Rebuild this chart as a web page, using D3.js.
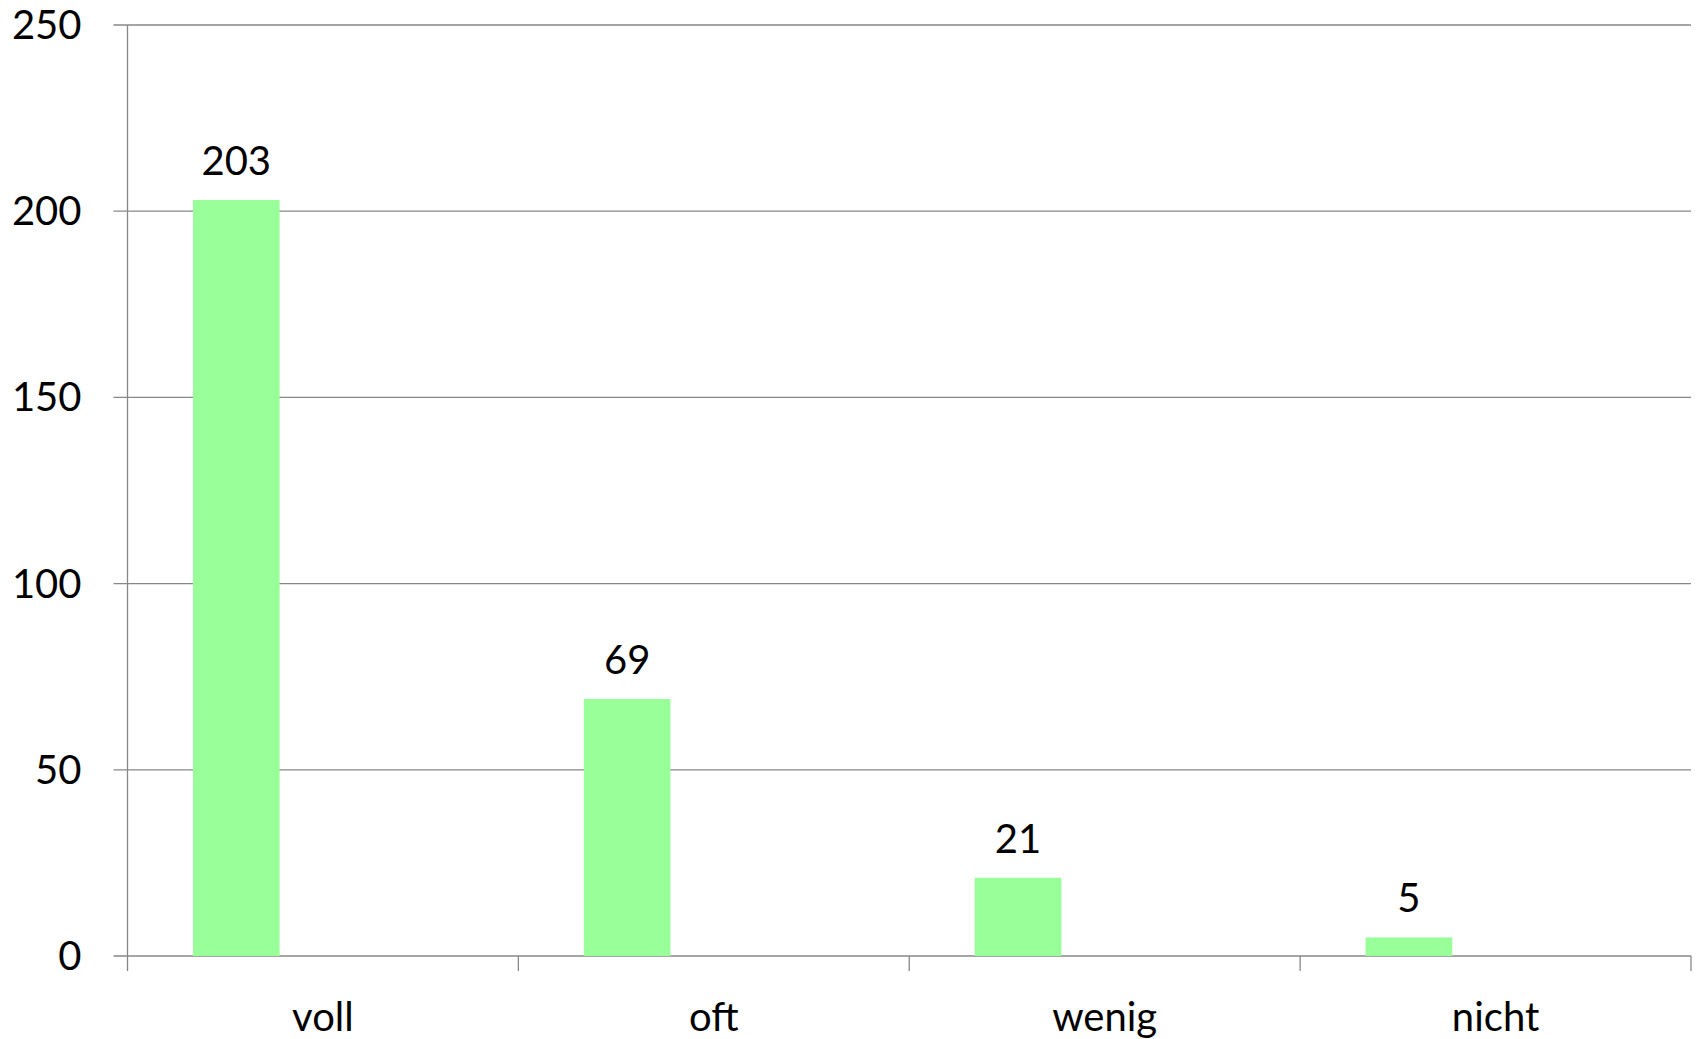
<!DOCTYPE html>
<html lang="de">
<head>
    <meta charset="UTF-8">
    <title>Balkendiagramm</title>
    <style>
        body { margin: 0; background: #fff; }
        svg { display: block; }
        text { font-family: Lato, "Open Sans", sans-serif; fill: #000; }
    </style>
</head>
<body>
    <svg id="chart" width="1696" height="1039"></svg>

    <script src="https://d3js.org/d3.v7.min.js"></script>
    <script>
        // data
        const categories = ['voll', 'oft', 'wenig', 'nicht'];
        const values = [203, 69, 21, 5];
        const yTicks = [0, 50, 100, 150, 200, 250];

        const width = 1696, height = 1039;
        const margin = { top: 25, right: 5, bottom: 83, left: 127.5 };
        const innerW = width - margin.left - margin.right;
        const innerH = height - margin.top - margin.bottom;

        const svg = d3.select('#chart');
        const g = svg.append('g')
            .attr('transform', `translate(${margin.left},${margin.top})`);

        const x = d3.scaleBand()
            .domain(categories)
            .range([0, innerW])
            .padding(0);

        // bar sits in the first of three slots inside each category (Excel-style cluster)
        const slot = d3.scaleBand()
            .domain([0, 1, 2])
            .range([0, x.bandwidth()])
            .paddingInner(0)
            .paddingOuter(0.755);

        const y = d3.scaleLinear()
            .domain([0, 250])
            .range([innerH, 0]);

        const gridColor = '#878787';

        // horizontal gridlines (with tick stub to the left of the axis)
        g.append('g')
            .selectAll('line')
            .data(yTicks)
            .join('line')
            .attr('x1', -14)
            .attr('x2', innerW)
            .attr('y1', d => y(d))
            .attr('y2', d => y(d))
            .attr('stroke', gridColor)
            .attr('stroke-width', 1.3);

        // y axis line
        g.append('line')
            .attr('x1', 0).attr('x2', 0)
            .attr('y1', 0).attr('y2', innerH)
            .attr('stroke', gridColor)
            .attr('stroke-width', 1.3);

        // x category ticks at band boundaries
        const bounds = categories.map(c => x(c)).concat([innerW]);
        g.append('g')
            .selectAll('line')
            .data(bounds)
            .join('line')
            .attr('x1', d => d).attr('x2', d => d)
            .attr('y1', innerH).attr('y2', innerH + 15)
            .attr('stroke', gridColor)
            .attr('stroke-width', 1.3);

        // y labels
        g.append('g')
            .selectAll('text')
            .data(yTicks)
            .join('text')
            .attr('x', -46)
            .attr('y', d => y(d))
            .attr('dy', '0.35em')
            .attr('text-anchor', 'end')
            .style('font-size', '40px')
            .text(d => d);

        // bars
        g.append('g')
            .selectAll('rect')
            .data(values)
            .join('rect')
            .attr('x', (d, i) => x(categories[i]) + slot(0))
            .attr('width', slot.bandwidth())
            .attr('y', d => y(d))
            .attr('height', d => innerH - y(d))
            .attr('fill', '#99ff99');

        // value labels
        g.append('g')
            .selectAll('text')
            .data(values)
            .join('text')
            .attr('x', (d, i) => x(categories[i]) + slot(0) + slot.bandwidth() / 2)
            .attr('y', d => y(d) - 25)
            .attr('text-anchor', 'middle')
            .style('font-size', '40px')
            .text(d => d);

        // category labels
        g.append('g')
            .selectAll('text')
            .data(categories)
            .join('text')
            .attr('x', d => x(d) + x.bandwidth() / 2)
            .attr('y', innerH + 75)
            .attr('text-anchor', 'middle')
            .style('font-size', '40px')
            .text(d => d);
    </script>
</body>
</html>
